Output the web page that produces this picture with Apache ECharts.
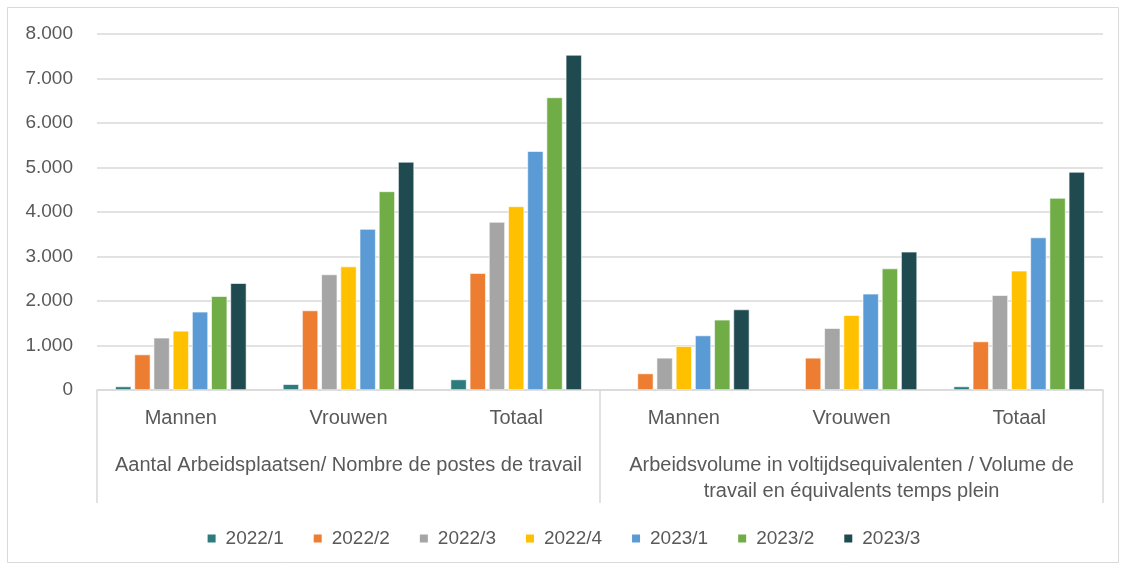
<!DOCTYPE html>
<html>
<head>
<meta charset="utf-8">
<script src="https://cdn.jsdelivr.net/npm/echarts@6/dist/echarts.min.js"></script>
<style>
html,body{margin:0;padding:0;background:#fff;}
#chart{width:1126px;height:570px;}
</style>
</head>
<body>
<div id="chart"></div>
<script>
// ---- data ----
var categories = ['Mannen', 'Vrouwen', 'Totaal', 'Mannen', 'Vrouwen', 'Totaal'];
var groups = ['Aantal Arbeidsplaatsen/ Nombre de postes de travail',
              'Arbeidsvolume in voltijdsequivalenten / Volume de\ntravail en équivalents temps plein'];
var seriesNames = ['2022/1', '2022/2', '2022/3', '2022/4', '2023/1', '2023/2', '2023/3'];
var s2022_1 = [79, 130, 236, null, null, 79];
var s2022_2 = [798, 1787, 2627, 371, 723, 1090];
var s2022_3 = [1173, 2596, 3775, 723, 1389, 2131];
var s2022_4 = [1330, 2775, 4126, 984, 1681, 2679];
var s2023_1 = [1757, 3618, 5366, 1225, 2162, 3427];
var s2023_2 = [2108, 4463, 6575, 1577, 2730, 4315];
var s2023_3 = [2400, 5126, 7530, 1809, 3106, 4900];
var yTicks = [0, 1000, 2000, 3000, 4000, 5000, 6000, 7000, 8000];

var seriesData = [s2022_1, s2022_2, s2022_3, s2022_4, s2023_1, s2023_2, s2023_3];
var colors = ['#2E7B7E', '#ED7D31', '#A5A5A5', '#FFC000', '#5B9BD5', '#70AD47', '#1F4A50'];
var FONT = 'Liberation Sans';
var TXT = '#595959';

function fmt(v) { return String(v).replace(/\B(?=(\d{3})+(?!\d))/g, '.'); }

var chart = echarts.init(document.getElementById('chart'), null, {renderer: 'canvas'});
chart.setOption({
  animation: false,
  color: colors,
  textStyle: {fontFamily: FONT},
  grid: {left: 97, right: 23, top: 34, bottom: 180, containLabel: false},
  graphic: [{
    type: 'rect', shape: {x: 7.5, y: 7.5, width: 1111, height: 555},
    style: {fill: 'none', stroke: '#D9D9D9', lineWidth: 1}, silent: true, z: -1
  }],
  legend: {
    data: seriesNames, top: 524, left: 'center', icon: 'rect',
    itemWidth: 10, itemHeight: 10, itemGap: 28,
    textStyle: {fontFamily: FONT, fontSize: 19, color: TXT, padding: [0, 0, 0, 4]}
  },
  yAxis: {
    type: 'value', min: yTicks[0], max: yTicks[yTicks.length - 1], interval: 1000,
    axisLine: {show: false}, axisTick: {show: false},
    axisLabel: {formatter: fmt, fontFamily: FONT, fontSize: 19, color: TXT, margin: 24},
    splitLine: {lineStyle: {color: '#D9D9D9', width: 1.5}}
  },
  xAxis: [{
    type: 'category', data: categories, position: 'bottom',
    axisLine: {lineStyle: {color: '#D9D9D9', width: 1.5}},
    axisTick: {show: false},
    axisLabel: {interval: 0, fontFamily: FONT, fontSize: 20, color: TXT, margin: 18}
  }, {
    type: 'category', data: groups, position: 'bottom',
    axisLine: {show: false},
    axisTick: {show: true, interval: 0, length: 113, lineStyle: {color: '#D9D9D9', width: 1.5}},
    axisLabel: {interval: 0, fontFamily: FONT, fontSize: 20, color: TXT, margin: 62, lineHeight: 26, align: 'center'}
  }],
  series: seriesNames.map(function (n, i) {
    return {
      name: n, type: 'bar', xAxisIndex: 0, data: seriesData[i],
      barWidth: 16, barGap: '20%',
      itemStyle: {color: colors[i], borderColor: '#ffffff', borderWidth: 0.6}
    };
  })
});
</script>
</body>
</html>
